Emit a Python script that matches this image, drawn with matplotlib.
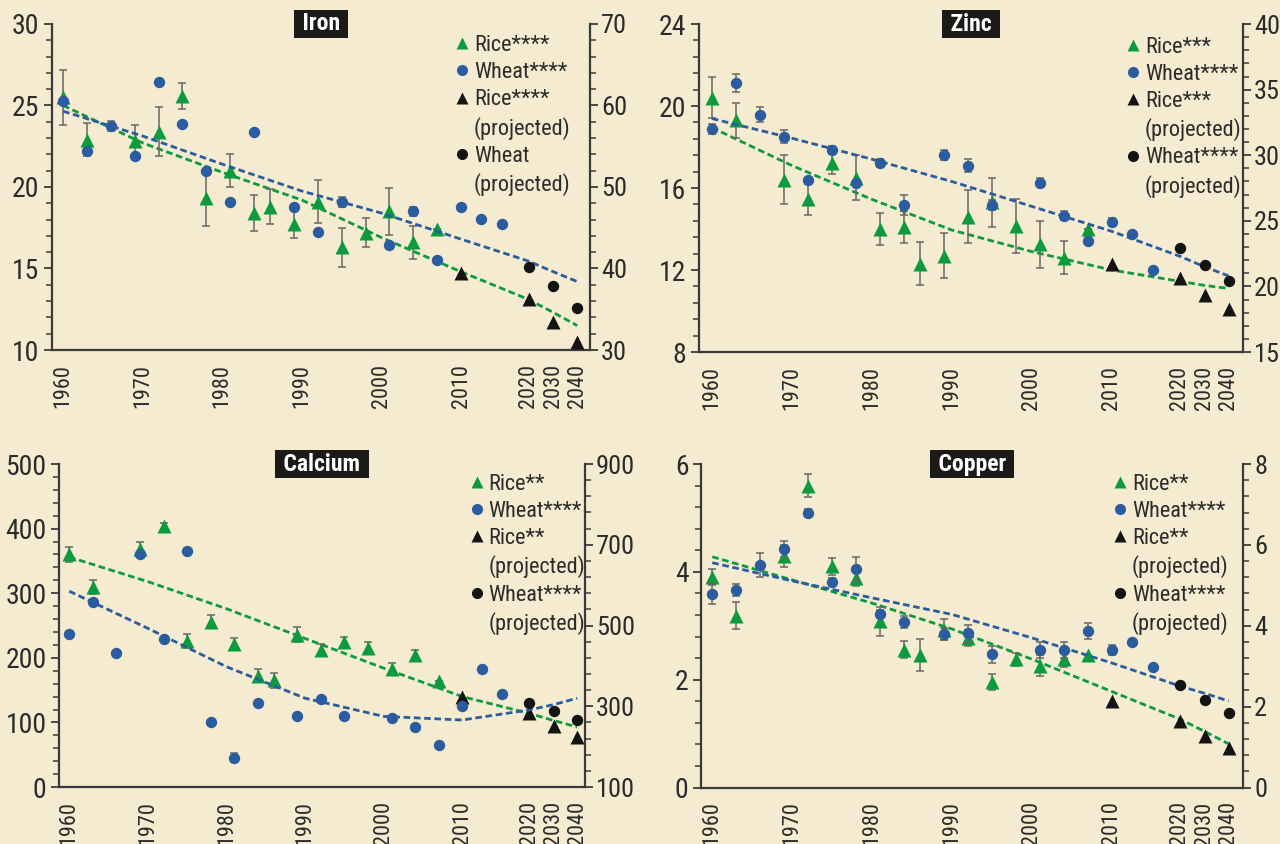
import numpy as np
import matplotlib
matplotlib.use('Agg')
import matplotlib.pyplot as plt
from matplotlib import font_manager
from matplotlib.lines import Line2D
from matplotlib.ticker import AutoMinorLocator, NullLocator

# the original uses a condensed face; take a narrow family when one is installed
_names = {f.name for f in font_manager.fontManager.ttflist}
FONT = 'DejaVu Sans'
for fam in ['Roboto Condensed', 'Liberation Sans Narrow', 'Roboto']:
    if fam in _names:
        FONT = fam
        break
plt.rcParams['font.family'] = [FONT, 'DejaVu Sans']

# survey years (wheat has no 1986 / 1998 sample, rice none after 2007)
rice_years = [1960, 1963, 1969, 1972, 1975, 1978, 1981, 1984, 1986, 1989, 1992, 1995, 1998, 2001, 2004, 2007]
wheat_years = [1960, 1963, 1966, 1969, 1972, 1975, 1978, 1981, 1984, 1989, 1992, 1995, 2001, 2004, 2007, 2010, 2013, 2016]
rice_proj_years = [2010, 2020, 2030, 2040]
wheat_proj_years = [2020, 2030, 2040]
trend_years = [1960, 1970, 1980, 1990, 2000, 2010, 2020, 2030, 2040]
year_ticks = [1960, 1970, 1980, 1990, 2000, 2010, 2020, 2030, 2040]

# Iron (rice left axis, wheat right axis)
iron_rice = [25.5, 22.9, 22.8, 23.4, 25.6, 19.3, 21.0, 18.4, 18.8, 17.75, 19.1, 16.3, 17.2, 18.5, 16.6, 17.4]
iron_rice_err = [1.7, 1.0, 1.0, 1.5, 0.8, 1.7, 1.0, 1.1, 1.1, 0.9, 1.3, 1.2, 0.9, 1.45, 1.0, 0.0]
iron_wheat = [60.5, 54.4, 57.5, 53.8, 62.9, 57.7, 52.0, 48.2, 56.8, 47.6, 44.5, 48.2, 42.9, 47.0, 41.1, 47.5, 46.1, 45.5]
iron_wheat_err = [0, 0, 0.6, 0, 0, 0, 0, 0, 0, 0, 0, 0.6, 0, 0.6, 0, 0, 0, 0]
iron_rice_proj = [14.7, 13.1, 11.7, 10.5]
iron_wheat_proj = [40.2, 37.8, 35.2]
iron_rice_trend = [25.0, 22.7, 20.9, 19.2, 16.9, 14.8, 13.1, 12.3, 11.5]
iron_wheat_trend = [59.3, 56.25, 52.8, 49.5, 46.8, 43.6, 40.9, 39.6, 38.4]

# Zinc
zinc_rice = [20.4, 19.3, 16.4, 15.45, 17.2, 16.5, 14.0, 14.1, 12.3, 12.7, 14.6, 15.3, 14.15, 13.25, 12.6, 14.0]
zinc_rice_err = [1.0, 0.85, 1.2, 0.75, 0.5, 1.1, 0.8, 0.8, 1.05, 1.1, 1.3, 1.2, 1.3, 1.15, 0.8, 0.0]
zinc_wheat = [32.0, 35.5, 33.1, 31.4, 28.1, 30.4, 27.9, 29.4, 26.2, 30.0, 29.2, 26.2, 27.9, 25.4, 23.5, 24.9, 24.0, 21.25]
zinc_wheat_err = [0.4, 0.7, 0.6, 0.5, 0, 0.3, 0, 0.3, 0.75, 0.4, 0.5, 0.4, 0.35, 0.35, 0.3, 0.3, 0, 0]
zinc_rice_proj = [12.3, 11.6, 10.8, 10.1]
zinc_wheat_proj = [22.9, 21.6, 20.4]
zinc_rice_trend = [18.95, 17.1, 15.45, 13.95, 12.9, 12.0, 11.45, 11.25, 11.1]
zinc_wheat_trend = [32.8, 31.3, 29.7, 28.0, 26.1, 24.2, 22.3, 21.5, 20.8]

# Calcium
calcium_rice = [360, 309.5, 369, 404, 226, 256, 222, 172, 165, 236, 212, 224, 215, 183, 204.5, 163.5]
calcium_rice_err = [11, 11, 10, 5, 11, 10, 9, 10, 11, 11, 9, 9, 9, 9, 7, 0]
calcium_wheat = [479, 558, 432, 676, 467, 684, 261, 173, 309, 275, 318, 276, 271, 249, 204, 300, 392, 330]
calcium_wheat_err = [0, 0, 0, 0, 0, 0, 0, 12, 0, 0, 0, 0, 0, 0, 0, 0, 0, 0]
calcium_rice_proj = [140, 114, 95, 78]
calcium_wheat_proj = [308, 289, 266]
calcium_rice_trend = [356, 318, 276, 230, 184, 140, 114, 103, 93]
calcium_wheat_trend = [585, 493, 398, 320, 275, 266, 291, 304, 320]

# Copper
copper_rice = [3.90, 3.19, 4.29, 5.60, 4.10, 3.89, 3.08, 2.56, 2.46, 2.93, 2.78, 1.96, 2.38, 2.26, 2.38, 2.46]
copper_rice_err = [0.15, 0.25, 0.2, 0.22, 0.15, 0.15, 0.27, 0.15, 0.3, 0.2, 0.15, 0.15, 0.12, 0.2, 0.15, 0]
copper_wheat = [4.78, 4.88, 5.50, 5.89, 6.80, 5.09, 5.40, 4.29, 4.10, 3.80, 3.81, 3.29, 3.40, 3.40, 3.88, 3.40, 3.59, 2.99]
copper_wheat_err = [0.25, 0.15, 0.3, 0.2, 0.1, 0.1, 0.3, 0.1, 0.15, 0.15, 0.2, 0.2, 0.2, 0.2, 0.2, 0.12, 0, 0]
copper_rice_proj = [1.60, 1.23, 0.955, 0.73]
copper_wheat_proj = [2.53, 2.16, 1.85]
copper_rice_trend = [4.28, 3.85, 3.42, 2.94, 2.38, 1.78, 1.27, 1.04, 0.81]
copper_wheat_trend = [5.56, 5.11, 4.69, 4.28, 3.70, 3.08, 2.51, 2.33, 2.14]

GREEN = '#0c9a3e'
BLUE = '#2b5c9f'
BLACK = '#141414'
TXT = '#2b2b2b'
BG = '#f4ebd0'

# x axis: linear until 2010, then the projection decades are squeezed together
YEAR_KNOTS = [1900, 1960, 2010, 2020, 2030, 2040, 2100]
POS_KNOTS = [-60, 0, 50, 58.5, 61.6, 64.6, 124.6]


def fwd(x):
    return np.interp(x, YEAR_KNOTS, POS_KNOTS)


def inv(x):
    return np.interp(x, POS_KNOTS, YEAR_KNOTS)


fig = plt.figure(figsize=(12.8, 8.44), dpi=100, facecolor=BG)


def panel(rect, title, rice, rice_err, wheat, wheat_err, rice_proj, wheat_proj,
          rice_trend, wheat_trend, left_lim, left_step, right_lim, right_step,
          xlim, rice_lbl, wheat_lbl, wheat_proj_lbl, leg_xy):
    ax = fig.add_axes(rect)
    ax.set_facecolor('none')
    ax.set_xscale('function', functions=(fwd, inv))
    ax2 = ax.twinx()

    # trend lines
    ax.plot(trend_years, rice_trend, color=GREEN, lw=2.0, dashes=(2.4, 1.3), zorder=2)
    ax2.plot(trend_years, wheat_trend, color=BLUE, lw=2.0, dashes=(2.4, 1.3), zorder=2)

    # measured values with error bars
    ax.errorbar(rice_years, rice, yerr=rice_err, fmt='^', ms=10, color=GREEN, mec='none',
                ecolor='#666666', elinewidth=1.1, capsize=3.2, capthick=1.1, zorder=3)
    ax2.errorbar(wheat_years, wheat, yerr=wheat_err, fmt='o', ms=8.2, color=BLUE, mec='none',
                 ecolor='#666666', elinewidth=1.1, capsize=3.2, capthick=1.1, zorder=3)

    # projections
    ax.plot(rice_proj_years, rice_proj, ls='none', marker='^', ms=10, color=BLACK, mec='none', zorder=4)
    ax2.plot(wheat_proj_years, wheat_proj, ls='none', marker='o', ms=8.2, color=BLACK, mec='none', zorder=4)

    for s in ('top', 'right'):
        ax.spines[s].set_visible(False)
    for s in ('top', 'left', 'bottom'):
        ax2.spines[s].set_visible(False)
    for sp in (ax.spines['left'], ax.spines['bottom'], ax2.spines['right']):
        sp.set_color('#3a3a3a')
        sp.set_linewidth(1.6)

    ax.set_yticks(np.arange(left_lim[0], left_lim[1] + left_step / 2, left_step))
    ax2.set_yticks(np.arange(right_lim[0], right_lim[1] + right_step / 2, right_step))
    ax.yaxis.set_minor_locator(AutoMinorLocator(5))
    ax2.yaxis.set_minor_locator(AutoMinorLocator(5))
    ax.set_xlim(xlim)
    ax.set_ylim(left_lim)
    ax2.set_ylim(right_lim)
    for a in (ax, ax2):
        a.tick_params(axis='y', which='major', direction='out', length=6, width=1.3,
                      color='#3a3a3a', labelsize=20, labelcolor=TXT, pad=3)
        a.tick_params(axis='y', which='minor', direction='out', length=4.5, width=1.1,
                      color='#3a3a3a')
    ax2.tick_params(axis='y', which='major', labelsize=19, pad=2)

    ax.set_xticks(year_ticks)
    ax.set_xticklabels([str(y) for y in year_ticks])
    ax.xaxis.set_minor_locator(NullLocator())
    ax.tick_params(axis='x', length=0, labelrotation=90, labelsize=16, labelcolor=TXT, pad=10)

    ax2.text(0.5, 1.0, f' {title} ', transform=ax2.transAxes, ha='center', va='center',
             color='white', fontsize=17, fontweight='bold',
             bbox=dict(boxstyle='square,pad=0.12', fc='#1c1a17', ec='none'), zorder=10)

    handles = [
        Line2D([], [], ls='none', marker='^', ms=8, color=GREEN, mec='none'),
        Line2D([], [], ls='none', marker='o', ms=8, color=BLUE, mec='none'),
        Line2D([], [], ls='none', marker='^', ms=8, color=BLACK, mec='none'),
        Line2D([], [], ls='none'),
        Line2D([], [], ls='none', marker='o', ms=8, color=BLACK, mec='none'),
        Line2D([], [], ls='none'),
    ]
    labels = [rice_lbl, wheat_lbl, rice_lbl, '(projected)', wheat_proj_lbl, '(projected)']
    ax2.legend(handles, labels, loc='upper left', bbox_to_anchor=leg_xy, frameon=False,
               fontsize=16, handlelength=0.7, handletextpad=0.2, labelspacing=0.28,
               borderpad=0, borderaxespad=0, labelcolor=TXT, numpoints=1)
    return ax, ax2


panel([0.0406, 0.5853, 0.4203, 0.3863], 'Iron', iron_rice, iron_rice_err, iron_wheat, iron_wheat_err,
      iron_rice_proj, iron_wheat_proj, iron_rice_trend, iron_wheat_trend,
      (10, 30), 5, (30, 70), 10, (1958.6, 2041.6), 'Rice****', 'Wheat****', 'Wheat', (0.747, 0.966))

panel([0.5461, 0.5829, 0.4250, 0.3886], 'Zinc', zinc_rice, zinc_rice_err, zinc_wheat, zinc_wheat_err,
      zinc_rice_proj, zinc_wheat_proj, zinc_rice_trend, zinc_wheat_trend,
      (8, 24), 4, (15, 40), 5, (1958.4, 2041.8), 'Rice***', 'Wheat****', 'Wheat****', (0.783, 0.962))

panel([0.0461, 0.0675, 0.4109, 0.3827], 'Calcium', calcium_rice, calcium_rice_err, calcium_wheat,
      calcium_wheat_err, calcium_rice_proj, calcium_wheat_proj, calcium_rice_trend, calcium_wheat_trend,
      (0, 500), 100, (100, 900), 200, (1958.7, 2041.0), 'Rice**', 'Wheat****', 'Wheat****', (0.779, 0.970))

panel([0.5477, 0.0669, 0.4234, 0.3833], 'Copper', copper_rice, copper_rice_err, copper_wheat,
      copper_wheat_err, copper_rice_proj, copper_wheat_proj, copper_rice_trend, copper_wheat_trend,
      (0, 6), 2, (0, 8), 2, (1958.6, 2041.8), 'Rice**', 'Wheat****', 'Wheat****', (0.758, 0.970))

fig.savefig('out.png', dpi=100, facecolor=fig.get_facecolor())
